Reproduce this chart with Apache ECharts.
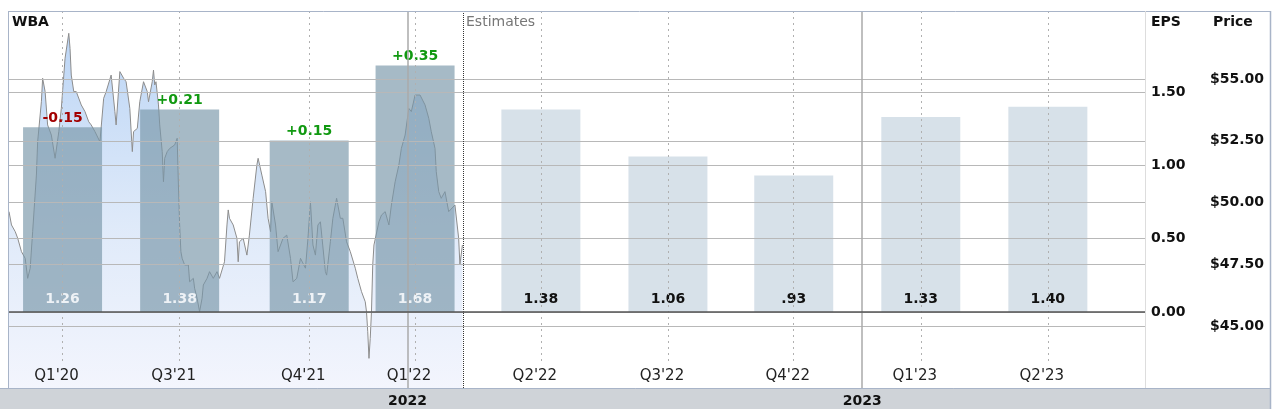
<!DOCTYPE html>
<html>
<head>
<meta charset="utf-8">
<script src="https://cdn.jsdelivr.net/npm/echarts@6/dist/echarts.min.js"></script>
<style>
html,body{margin:0;padding:0;background:#fff;}
#chart{width:1280px;height:409px;}
</style>
</head>
<body>
<div id="chart"></div>
<script>
// ---- Data (x positions in days relative to 2022-01-01) ----
const ticker = 'WBA';
const xMinDay = -320;
const xMaxDay = 592;
const quarterLabels = ["Q1'20", "Q3'21", "Q4'21", "Q1'22", "Q2'22", "Q3'22", "Q4'22", "Q1'23", "Q2'23"];
const quarterDays = [-277, -183, -79, 6, 107, 209, 310, 412, 514];
const epsValues = [1.26, 1.38, 1.17, 1.68, 1.38, 1.06, 0.93, 1.33, 1.40];
const epsText = ['1.26', '1.38', '1.17', '1.68', '1.38', '1.06', '.93', '1.33', '1.40'];
const isEstimate = [false, false, false, false, true, true, true, true, true];
const surpriseText = ['-0.15', '+0.21', '+0.15', '+0.35', '', '', '', '', ''];
const yearDays = [0, 365];
const yearLabels = ['2022', '2023'];
const estimatesDay = 44.6;
const epsTicks = { min: 0, max: 1.5, interval: 0.5 };
const priceTicks = { min: 45, max: 55, interval: 2.5 };
const priceDays = [
  -320,-318,-315,-313,-310,-307,-305,-303,-301,-298,-297,-294,-293,-291,-289,-286,-283,-280,-278,-276,
  -275,-272,-271,-270,-268,-266,-262,-259,-256,-254,-251,-247,-244,-242,-238,-235,-234,-231,-228,-226,
  -223,-221,-220,-217,-215,-212,-209,-208,-205,-204,-203,-202,-200,-199,-197,-196,-195,-193,-191,-187,
  -185,-184,-183,-182,-181,-179,-176,-175,-172,-171,-169,-168,-167,-165,-164,-161,-159,-156,-153,-151,
  -147,-145,-144,-143,-140,-137,-136,-135,-132,-129,-127,-124,-121,-120,-117,-114,-112,-110,-109,-106,
  -104,-100,-97,-94,-92,-89,-86,-82,-80,-78,-76,-74,-72,-70,-66,-65,-62,-60,-57,-54,
  -52,-49,-46,-42,-40,-37,-34,-33,-32,-31,-30,-29,-28,-27,-23,-21,-18,-15,-13,-10,
  -7,-5,-2,1,3,6,10,14,17,19,22,23,25,27,30,33,38,41,42,44
];
const priceValues = [
  49.63,49.09,48.82,48.55,48.01,47.74,46.93,47.34,48.82,51.11,52.46,54.08,55.03,54.49,53.14,52.73,51.79,52.87,53.81,55.16,
  55.84,56.85,56.24,55.16,54.49,54.49,53.95,53.68,53.27,53.14,52.87,52.46,54.22,54.49,55.16,53.68,53.14,55.30,55.03,54.89,
  53.81,52.06,52.87,53.00,54.08,54.89,54.49,54.08,54.89,55.36,54.76,54.89,53.95,53.14,52.06,50.84,51.79,52.06,52.19,52.33,
  52.60,50.71,49.09,48.01,47.74,47.47,47.47,46.79,46.93,46.53,46.12,45.85,45.58,46.12,46.66,46.93,47.20,46.93,47.20,46.93,
  47.60,49.09,49.70,49.36,49.09,48.55,47.60,48.41,48.55,47.87,48.68,50.17,51.52,51.79,51.11,50.44,49.36,48.82,50.03,49.09,
  48.01,48.55,48.68,47.74,46.79,46.93,47.74,47.34,48.55,50.03,48.28,47.87,49.09,49.22,47.20,47.06,48.41,49.36,50.17,49.36,
  49.36,48.41,48.01,47.34,46.93,46.39,45.98,45.58,44.77,43.69,44.50,45.58,47.47,48.28,49.22,49.49,49.63,49.09,49.90,50.84,
  51.52,52.19,52.73,53.81,53.68,54.35,54.35,53.95,53.41,52.87,52.19,51.25,50.44,50.17,50.44,49.63,49.90,48.55,47.47,48.28
];

// ---- Layout / style ----
const FONT = 'DejaVu Sans, Verdana, sans-serif';
const plotLeft = 9, plotWidth = 1136, plotTop = 11, plotBottom = 388;
const priceFloor = 42.49; // area fill down to the plot bottom
const gridColor = '#b8b8b8';

const chart = echarts.init(document.getElementById('chart'), null, { renderer: 'canvas' });

const barData = quarterDays.map((d, i) => ({
  value: [d, epsValues[i]],
  itemStyle: { color: isEstimate[i] ? 'rgba(200,214,224,0.72)' : 'rgba(120,150,168,0.66)' },
  label: { color: isEstimate[i] ? '#111' : '#eef2f6' }
}));
const surpriseData = quarterDays.map((d, i) => ({
  value: [d, epsValues[i]],
  label: {
    show: surpriseText[i] !== '',
    color: surpriseText[i].charAt(0) === '-' ? '#a30000' : '#119911'
  }
}));

const option = {
  animation: false,
  grid: [
    { left: plotLeft, width: plotWidth, top: plotTop, height: 352 },            // 0 quarter guide lines
    { left: plotLeft, width: plotWidth, top: 92, height: 220 },                 // 1 EPS
    { left: plotLeft, width: plotWidth, top: 79, height: 247 },                 // 2 Price
    { left: plotLeft, width: plotWidth, top: plotTop, height: plotBottom - plotTop } // 3 years
  ],
  xAxis: [
    { gridIndex: 0, type: 'value', min: xMinDay, max: xMaxDay, z: 5,
      axisLine: { show: false },
      axisTick: { show: false, customValues: quarterDays },
      axisLabel: { customValues: quarterDays, margin: 6, padding: [0, 12, 0, 0],
        fontFamily: FONT, fontSize: 15, color: '#222',
        formatter: v => quarterLabels[quarterDays.indexOf(v)] },
      splitLine: { show: true, lineStyle: { color: '#b0b0b0', type: [2, 4], width: 1 } } },
    { gridIndex: 1, type: 'value', min: xMinDay, max: xMaxDay, z: 6,
      axisLine: { show: true, onZero: true, lineStyle: { color: '#555', width: 1.5 } },
      axisTick: { show: false }, axisLabel: { show: false }, splitLine: { show: false } },
    { gridIndex: 2, type: 'value', min: xMinDay, max: xMaxDay, show: false },
    { gridIndex: 3, type: 'value', min: xMinDay, max: xMaxDay, position: 'bottom', z: 5,
      axisLine: { show: false },
      axisTick: { show: false, customValues: yearDays },
      axisLabel: { customValues: yearDays, margin: 6, fontFamily: FONT, fontSize: 14,
        fontWeight: 'bold', color: '#111',
        formatter: v => yearLabels[yearDays.indexOf(v)] },
      splitLine: { show: true, lineStyle: { color: '#aaaaaa', width: 1.5 } } },
    { gridIndex: 3, type: 'value', min: xMinDay, max: xMaxDay, position: 'top', z: 5,
      axisLine: { show: false },
      axisTick: { show: false, customValues: [estimatesDay] },
      axisLabel: { show: false },
      splitLine: { show: true, lineStyle: { color: '#333', type: [1, 1], width: 1 } } }
  ],
  yAxis: [
    { gridIndex: 0, type: 'value', min: 0, max: 1, show: false },
    { gridIndex: 1, type: 'value', position: 'right', z: 5,
      min: epsTicks.min, max: epsTicks.max, interval: epsTicks.interval,
      axisLine: { show: false }, axisTick: { show: false },
      axisLabel: { margin: 6, fontFamily: FONT, fontSize: 14, fontWeight: 'bold', color: '#111',
        formatter: v => v.toFixed(2) },
      splitLine: { show: true, lineStyle: { color: gridColor, width: 1.2 } } },
    { gridIndex: 2, type: 'value', position: 'right', z: 5,
      min: priceTicks.min, max: priceTicks.max, interval: priceTicks.interval,
      axisLine: { show: false }, axisTick: { show: false },
      axisLabel: { margin: 65, fontFamily: FONT, fontSize: 14, fontWeight: 'bold', color: '#111',
        formatter: v => '$' + v.toFixed(2) },
      splitLine: { show: true, lineStyle: { color: gridColor, width: 1.2 } } },
    { gridIndex: 3, type: 'value', min: 0, max: 1, show: false }
  ],
  series: [
    { type: 'line', name: 'Price', xAxisIndex: 2, yAxisIndex: 2, clip: false, z: 1,
      data: priceDays.map((d, i) => [d, priceValues[i]]),
      showSymbol: false, symbol: 'none',
      lineStyle: { color: '#8c8c8c', width: 1 },
      areaStyle: { origin: priceFloor,
        color: new echarts.graphic.LinearGradient(0, 0, 0, 1, [
          { offset: 0, color: 'rgba(150,190,240,0.9)' },
          { offset: 0.55, color: 'rgba(205,222,246,0.9)' },
          { offset: 1, color: 'rgba(236,239,252,0.9)' }
        ]) } },
    { type: 'bar', name: 'EPS', xAxisIndex: 1, yAxisIndex: 1, clip: false, z: 3,
      barWidth: 79, barGap: '-100%',
      data: barData,
      label: { show: true, position: 'insideBottom', distance: 6,
        fontFamily: FONT, fontSize: 14, fontWeight: 'bold',
        formatter: p => epsText[p.dataIndex] } },
    { type: 'bar', name: 'Surprise', xAxisIndex: 1, yAxisIndex: 1, clip: false, z: 4,
      barWidth: 79, barGap: '-100%',
      data: surpriseData,
      itemStyle: { color: 'rgba(0,0,0,0)' },
      label: { position: 'top', distance: 2,
        fontFamily: FONT, fontSize: 14, fontWeight: 'bold',
        formatter: p => surpriseText[p.dataIndex] } }
  ],
  graphic: [
    { type: 'rect', z: -10, shape: { x: 0, y: 388, width: 1271, height: 21 }, style: { fill: '#cfd3d8' } },
    { type: 'line', z: 20, shape: { x1: 0, y1: 388.5, x2: 1271, y2: 388.5 }, style: { stroke: '#a8b4c8', lineWidth: 1 } },
    { type: 'line', z: 20, shape: { x1: 8.5, y1: 11, x2: 8.5, y2: 388 }, style: { stroke: '#a8b4c8', lineWidth: 1 } },
    { type: 'line', z: 20, shape: { x1: 8, y1: 11.5, x2: 1271, y2: 11.5 }, style: { stroke: '#a8b4c8', lineWidth: 1 } },
    { type: 'line', z: 20, shape: { x1: 1270.5, y1: 11, x2: 1270.5, y2: 409 }, style: { stroke: '#a8b4c8', lineWidth: 1.5 } },
    { type: 'line', z: 20, shape: { x1: 1145.5, y1: 11, x2: 1145.5, y2: 388 }, style: { stroke: '#dddddd', lineWidth: 1 } },
    { type: 'text', z: 20, left: 12, top: 15, style: { text: ticker, font: 'bold 14px ' + FONT, fill: '#111' } },
    { type: 'text', z: 20, left: 466, top: 15, style: { text: 'Estimates', font: '14px ' + FONT, fill: '#777' } },
    { type: 'text', z: 20, left: 1151, top: 15, style: { text: 'EPS', font: 'bold 14px ' + FONT, fill: '#111' } },
    { type: 'text', z: 20, left: 1213, top: 15, style: { text: 'Price', font: 'bold 14px ' + FONT, fill: '#111' } }
  ]
};
chart.setOption(option);
</script>
</body>
</html>
